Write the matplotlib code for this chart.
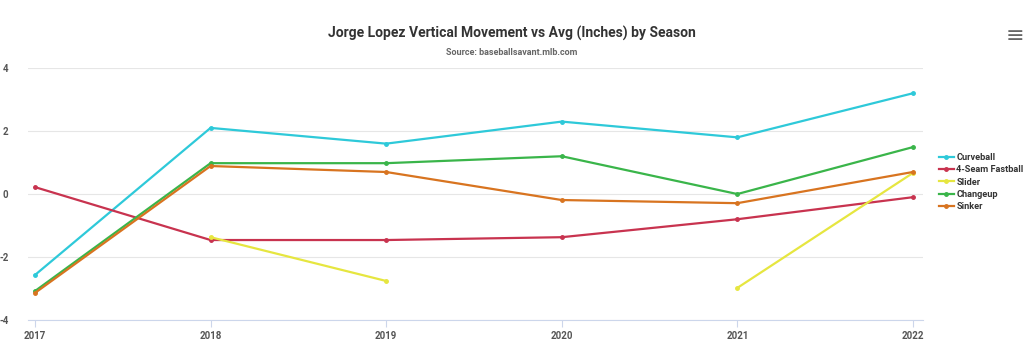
import numpy as np
import matplotlib.pyplot as plt
from matplotlib.lines import Line2D

plt.rcParams.update({'font.family': ['Roboto', 'DejaVu Sans']})

seasons = [2017, 2018, 2019, 2020, 2021, 2022]
curveball = [-2.57, 2.1, 1.6, 2.3, 1.8, 3.2]
fastball = [0.22, -1.46, -1.46, -1.37, -0.8, -0.1]
slider = [np.nan, -1.37, -2.76, np.nan, -2.98, 0.67]
changeup = [-3.08, 0.98, 0.98, 1.2, 0.0, 1.49]
sinker = [-3.14, 0.89, 0.7, -0.19, -0.29, 0.7]

series = [
    ('Curveball', curveball, '#2ec9d9'),
    ('4-Seam Fastball', fastball, '#c8334f'),
    ('Slider', slider, '#e6e640'),
    ('Changeup', changeup, '#3ab54a'),
    ('Sinker', sinker, '#d87420'),
]

fig = plt.figure(figsize=(10.24, 3.49), dpi=100)
ax = fig.add_axes([0.0273, 0.083, 0.874, 0.722])

for name, vals, col in series:
    ax.plot(seasons, vals, color=col, lw=1.6, marker='o', ms=2.5, label=name)

ax.set_xlim(2016.96, 2022.057)
ax.set_ylim(-4, 4)
ax.set_yticks([-4, -2, 0, 2, 4])
ax.set_xticks(seasons)
ax.set_xticklabels([str(s) for s in seasons], fontsize=7, color='#555555', fontweight='bold')
ax.set_yticklabels(['-4', '-2', '0', '2', '4'], fontsize=7, color='#555555', fontweight='bold')
ax.grid(axis='y', color='#e6e6e6', lw=0.8)
ax.set_axisbelow(True)
for s in ['top', 'right', 'left']:
    ax.spines[s].set_visible(False)
ax.spines['bottom'].set_color('#ccd6eb')
ax.tick_params(axis='y', length=0, pad=14)
ax.tick_params(axis='x', length=5, color='#ccd6eb', pad=3)

handles = [Line2D([0], [0], color=c, lw=1.6, marker='o', ms=2.5) for _, _, c in series]
leg = fig.legend(handles, [n for n, _, _ in series], loc='center left',
                 bbox_to_anchor=(0.909, 0.478), frameon=False,
                 handlelength=1.6, handletextpad=0.3, labelspacing=0.35,
                 prop={'weight': 'bold', 'size': 6.6})
for t in leg.get_texts():
    t.set_color('#333333')

fig.text(0.5, 0.905, 'Jorge Lopez Vertical Movement vs Avg (Inches) by Season',
         ha='center', va='center', fontsize=10, fontweight='bold', color='#333333')
fig.text(0.5, 0.851, 'Source: baseballsavant.mlb.com', ha='center', va='center',
         fontsize=6.5, fontweight='bold', color='#666666')
fig.text(0.991, 0.897, '≡', ha='center', va='center', fontsize=16, color='#666666',
         family='DejaVu Sans')

fig.savefig('out.png', dpi=100)
